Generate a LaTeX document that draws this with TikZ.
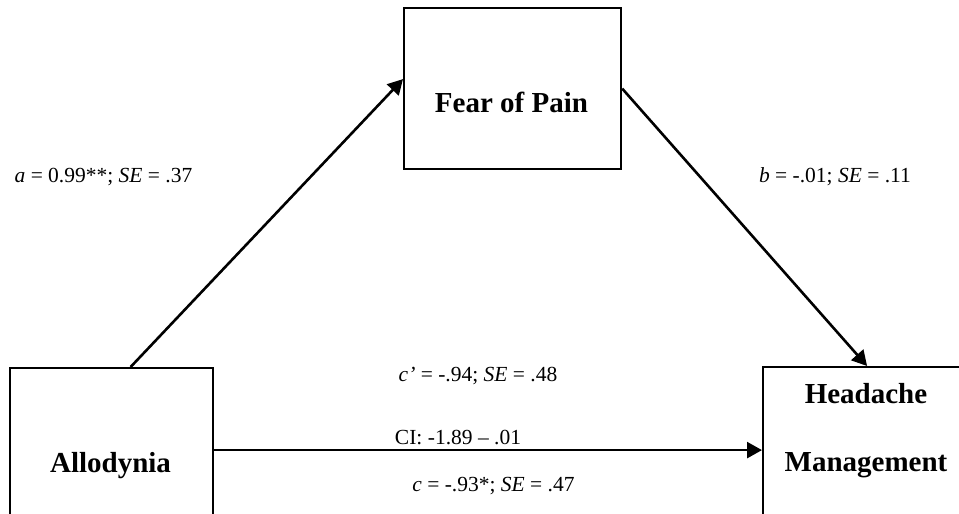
\documentclass[tikz,border=0pt]{standalone}
\usepackage{fontspec}
\setmainfont{Liberation Serif}
\usepackage{tikz}
\usetikzlibrary{arrows.meta, positioning, calc}
\tikzset{
  varbox/.style={
    rectangle, draw=black, line width=2.2pt,
    minimum width=203pt, minimum height=190pt, inner sep=0pt,
  },
  vartext/.style={
    font=\fontsize{29}{68}\selectfont\bfseries,
    inner sep=0pt, align=center,
  },
  effect/.style={-{Triangle[length=15pt,width=16pt]}, line width=2.6pt},
  coef/.style={font=\fontsize{21.5}{26}\selectfont, inner sep=0pt, anchor=base},
}

\begin{document}
\begin{tikzpicture}[x=1pt,y=-1pt]
  \clip (0,0) rectangle (959,514);
  % variables
  \node[varbox, minimum width=217pt, minimum height=161pt, anchor=north west] (fear) at (403,7) {};
  \node[varbox, anchor=north west] (allo) at (9,367) {};
  \node[varbox, minimum width=208pt, anchor=north west] (head) at (762,366) {};
  \node[vartext, anchor=base] (feartxt) at (511.5,112) {Fear of Pain};
  \node[vartext, anchor=base] (allotxt) at (110.5,472) {Allodynia};
  \node[vartext] (headtxt) at (866,431) {Headache\\Management};
  % paths
  \draw[effect] ([xshift=19pt]allo.north) -- ([yshift=9.5pt]fear.west);
  \draw[effect] (fear.east) -- (head.north);
  \draw[effect] ([yshift=13pt]allo.east) -- ([yshift=13pt]allo.east -| head.west);
  % coefficients
  \node[coef] (coefa) at (103.5,182) {\textit{a} = 0.99**; \textit{SE} = .37};
  \node[coef] (coefb) at (835,182) {\textit{b} = -.01; \textit{SE} = .11};
  \node[coef] (coefcp) at (478,381) {\textit{c’} = -.94; \textit{SE} = .48};
  \node[coef] (coefci) at (458,444) {CI: -1.89 – .01};
  \node[coef] (coefc) at (493.5,491) {\textit{c} = -.93*; \textit{SE} = .47};
\end{tikzpicture}
\end{document}
